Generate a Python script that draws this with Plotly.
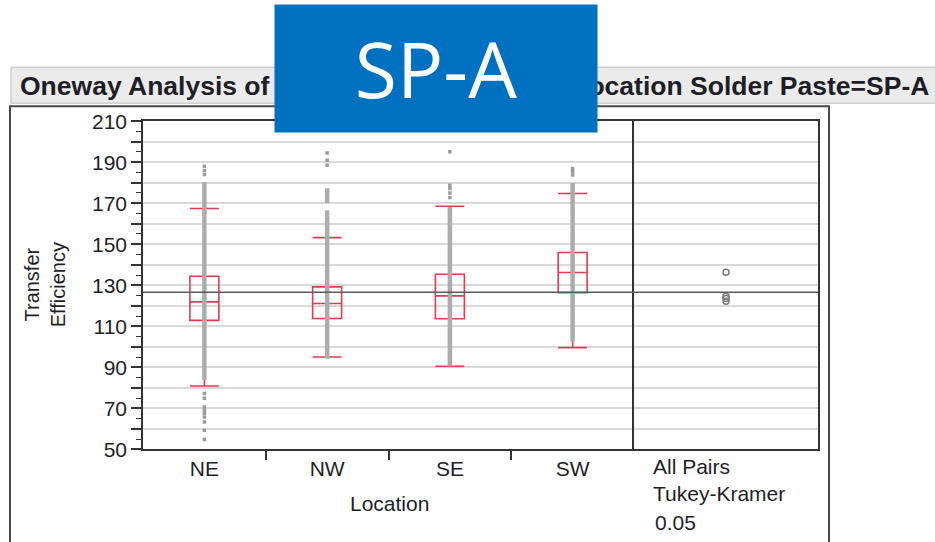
import plotly.graph_objects as go

# ---- data -------------------------------------------------------------
locations = ["NE", "NW", "SE", "SW"]

# box-plot summaries (Transfer Efficiency)
q1 = [112.9, 113.8, 113.7, 126.4]
median = [121.9, 121.1, 124.8, 136.2]
q3 = [134.4, 129.2, 135.4, 146.0]
lower_whisker = [80.9, 95.0, 90.5, 99.6]
upper_whisker = [167.4, 153.2, 168.5, 174.7]

# stretches where observations are packed so densely they form a solid band
dense_location = ["NE", "NW", "NW", "SE", "SW"]
dense_low = [83.7, 94.2, 170.0, 90.5, 102.6]
dense_high = [180.4, 166.6, 177.3, 168.2, 179.9]

# individually visible observations
sparse_location = (["NE"] * 12 + ["NW"] * 3 + ["SE"] * 5 + ["SW"] * 3)
sparse_value = [184.0, 186.0, 188.0, 77.2, 74.9, 70.6, 69.0, 67.6, 65.8, 63.3, 59.3, 54.8,
                188.5, 191.0, 194.5,
                172.8, 175.0, 177.2, 178.8, 195.1,
                183.7, 185.3, 186.9]

# group means for the comparison-circle panel, and the grand mean
group_mean = [123.5, 122.2, 124.6, 136.3]
grand_mean = 126.6

y_tick_vals = list(range(50, 211, 10))
y_tick_text = [str(v) if (v - 50) % 20 == 0 else "" for v in y_tick_vals]
# tick marks sit between neighbouring locations
x_boundaries = [i + 0.5 for i in range(len(locations) - 1)]

# ---- geometry / style -------------------------------------------------
W, H = 935, 542
TOP, SPAN = 11.9, 518.7          # vertical extent of the drawing on the page
px = lambda x: x / W
py = lambda y: 1 - (y - TOP) / SPAN

FONT = "Liberation Sans, Arial, sans-serif"
TXT = "#1e1e28"
RED = "#E63950"
AX = "#333333"
GRID = "#D9D9D9"

plot_dom_y = [py(449), py(121)]

fig = go.Figure()

# dense bands of points
bx, by = [], []
for loc, lo, hi in zip(dense_location, dense_low, dense_high):
    bx += [loc, loc, None]
    by += [lo, hi, None]
fig.add_trace(go.Scatter(x=bx, y=by, mode="lines",
                         line=dict(color="#ACACAC", width=4.5),
                         hoverinfo="skip", showlegend=False))

# individual points
fig.add_trace(go.Scatter(x=sparse_location, y=sparse_value, mode="markers",
                         marker=dict(symbol="square", size=3.5, color="#9C9C9C"),
                         showlegend=False))

# box plots with capped whiskers
fig.add_trace(go.Box(x=locations, q1=q1, median=median, q3=q3,
                     lowerfence=lower_whisker, upperfence=upper_whisker,
                     width=0.236, whiskerwidth=1, boxpoints=False,
                     fillcolor="rgba(0,0,0,0)", line=dict(color=RED, width=1.6),
                     showlegend=False))

# comparison circles
fig.add_trace(go.Scatter(x=[0.5] * len(group_mean), y=group_mean, mode="markers",
                         xaxis="x2", yaxis="y2",
                         marker=dict(symbol="circle-open", size=6,
                                     color="#7A7A7A", line=dict(width=1.5)),
                         showlegend=False))

# carrier for the separator-tick axis
fig.add_trace(go.Scatter(x=[None], y=[None], xaxis="x3", yaxis="y",
                         hoverinfo="skip", showlegend=False))

fig.update_layout(
    width=W, height=H,
    margin=dict(l=0, r=0, t=0, b=0),
    paper_bgcolor="white", plot_bgcolor="white",
    font=dict(family=FONT, color=TXT, size=21),
    xaxis=dict(domain=[px(143), px(634)], type="category",
               range=[-0.5, 3.5], ticks="",
               showline=True, linecolor=AX, linewidth=1.5, mirror=True,
               showgrid=False, zeroline=False, anchor="y",
               tickfont=dict(size=21, color=TXT)),
    xaxis3=dict(overlaying="x", anchor="y", range=[-0.5, 3.5],
                tickmode="array", tickvals=x_boundaries,
                ticks="outside", ticklen=10, tickwidth=1.5, tickcolor=AX,
                showticklabels=False, showline=False, showgrid=False,
                zeroline=False, side="bottom"),
    yaxis=dict(domain=plot_dom_y, range=[50, 210],
               tickmode="array", tickvals=y_tick_vals, ticktext=y_tick_text,
               ticks="outside", ticklen=10, tickwidth=1.5, tickcolor=AX,
               showline=True, linecolor=AX, linewidth=1.5, mirror=False,
               showgrid=True, gridcolor=GRID, gridwidth=1.5,
               zeroline=False, anchor="x",
               minor=dict(tick0=50, dtick=5, ticks="outside", ticklen=5,
                          tickcolor=AX, tickwidth=1.2, showgrid=False),
               tickfont=dict(size=21, color=TXT)),
    xaxis2=dict(domain=[px(634), px(818)], range=[0, 1],
                showticklabels=False, ticks="", showgrid=False, zeroline=False,
                showline=True, linecolor=AX, linewidth=1.5, mirror=True,
                anchor="y2"),
    yaxis2=dict(domain=plot_dom_y, range=[50, 210],
                tickmode="array", tickvals=y_tick_vals,
                showticklabels=False, ticks="",
                showgrid=True, gridcolor=GRID, gridwidth=1.5, zeroline=False,
                showline=True, linecolor=AX, linewidth=1.5, mirror=True,
                anchor="x2"),
)

shapes = [
    # report frame
    dict(type="rect", xref="paper", yref="paper",
         x0=px(10), x1=px(829), y0=-0.1, y1=py(106),
         line=dict(color="#4A4A4A", width=2), fillcolor="rgba(0,0,0,0)",
         layer="below"),
    # outline header bar
    dict(type="rect", xref="paper", yref="paper",
         x0=px(11), x1=1.02, y0=py(103), y1=py(67),
         line=dict(color="#BDBDBD", width=1), fillcolor="#EBEBEB",
         layer="below"),
    # grand mean line across both panels
    dict(type="line", xref="paper", yref="y",
         x0=px(143), x1=px(818), y0=grand_mean, y1=grand_mean,
         line=dict(color="#5A5A5A", width=1.3), layer="above"),
]
fig.update_layout(shapes=shapes)

annotations = [
    dict(text="<b>Oneway Analysis of Transfer Efficiency</b>",
         x=px(18), y=py(86), xref="paper", yref="paper",
         xanchor="left", yanchor="middle", showarrow=False,
         font=dict(size=26.5, color=TXT)),
    dict(text="<b>By Location Solder Paste=SP-A</b>",
         x=px(931), y=py(86), xref="paper", yref="paper",
         xanchor="right", yanchor="middle", showarrow=False,
         font=dict(size=26.5, color=TXT)),
    dict(text="Transfer<br>Efficiency", textangle=-90,
         x=px(45), y=py(285), xref="paper", yref="paper",
         xanchor="center", yanchor="middle", showarrow=False,
         font=dict(size=20, color=TXT)),
    dict(text="Location", x=px(389), y=py(503), xref="paper", yref="paper",
         xanchor="center", yanchor="middle", showarrow=False,
         font=dict(size=21, color=TXT)),
    dict(text="All Pairs", x=px(651), y=py(466), xref="paper", yref="paper",
         xanchor="left", yanchor="middle", showarrow=False,
         font=dict(size=21, color=TXT)),
    dict(text="Tukey-Kramer", x=px(651), y=py(493), xref="paper", yref="paper",
         xanchor="left", yanchor="middle", showarrow=False,
         font=dict(size=21, color=TXT)),
    dict(text="0.05", x=px(653), y=py(522), xref="paper", yref="paper",
         xanchor="left", yanchor="middle", showarrow=False,
         font=dict(size=21, color=TXT)),
    # blue label panel on top of the header
    dict(text="SP-A", x=px(436), y=py(68), xref="paper", yref="paper",
         xanchor="center", yanchor="middle", showarrow=False,
         width=322, height=127, borderpad=0, bgcolor="#0070C0",
         valign="middle", align="center",
         font=dict(family="Open Sans, Noto Sans, sans-serif", size=77,
                   color="white")),
]
fig.update_layout(annotations=annotations)

fig.write_html("out.html", config={"displayModeBar": False})
